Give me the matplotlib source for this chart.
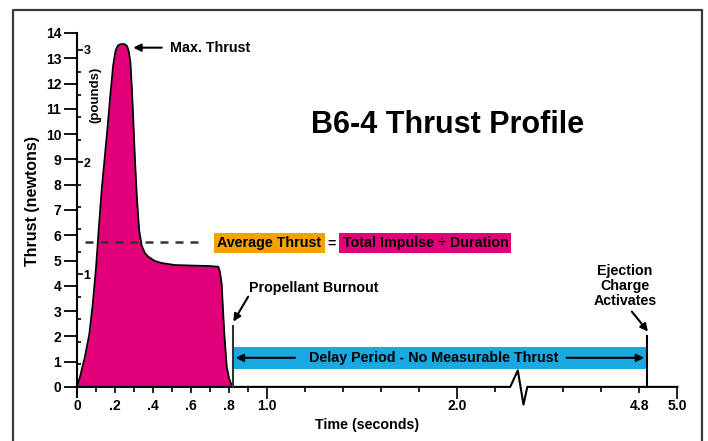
import numpy as np
import matplotlib
matplotlib.use("Agg")
import matplotlib.pyplot as plt
from matplotlib.lines import Line2D

plt.rcParams['font.family'] = ['Liberation Sans', 'DejaVu Sans']
plt.rcParams['font.weight'] = 'bold'

# thrust curve of the B6-4 motor (time in s, thrust in N)
burn_t = [0.0, 0.016, 0.042, 0.065, 0.082, 0.100, 0.115, 0.130, 0.145, 0.160,
          0.175, 0.190, 0.203, 0.215, 0.230, 0.250, 0.264, 0.273, 0.281, 0.288,
          0.296, 0.305, 0.315, 0.327, 0.340, 0.357, 0.375, 0.410, 0.445, 0.515,
          0.600, 0.700, 0.744, 0.752, 0.761, 0.775, 0.788, 0.800, 0.812, 0.825]
burn_N = [0.0, 0.4, 1.2, 2.1, 3.2, 4.7, 6.3, 7.8, 9.0, 10.2,
          11.5, 12.7, 13.3, 13.5, 13.56, 13.56, 13.48, 13.25, 12.85, 11.9,
          10.6, 9.0, 7.5, 6.2, 5.6, 5.3, 5.15, 4.98, 4.9, 4.82,
          4.8, 4.78, 4.75, 4.55, 4.1, 2.13, 0.8, 0.35, 0.1, 0.0]

avg_thrust = 5.7
burnout_t = 0.82
eject_t = 4.84
N_PER_LB = 4.448

xtick_pos = [0, 0.2, 0.4, 0.6, 0.8, 1.0, 2.0, 4.8, 5.0]
xtick_lab = ['0', '.2', '.4', '.6', '.8', '1.0', '2.0', '4.8', '5.0']
xminor_pos = [0.1, 0.3, 0.5, 0.7, 0.9, 1.2, 1.4, 1.6, 1.8, 2.2, 4.4, 4.6]
ytick_pos = list(range(0, 15))
lb_major = [1, 2, 3]
lb_minor = [0.2, 0.4, 0.6, 0.8, 1.2, 1.4, 1.6, 1.8, 2.2, 2.4, 2.6, 2.8]

# broken time axis: 2.28 s .. 4.21 s squeezed into the zigzag
brk_t = [-10, 2.28, 4.21, 20]
brk_u = [-10, 2.28, 2.37, 18.16]
axis_t = [0, 2.28, 3.14, 3.78, 4.21, 5.0]
axis_N = [0, 0, 0.65, -0.7, 0, 0]


def fwd(t):
    return np.interp(t, brk_t, brk_u)


def inv(u):
    return np.interp(u, brk_u, brk_t)


magenta = '#E2007A'
orange = '#F2A300'
blue = '#18A8E2'
dark = '#333333'

fig = plt.figure(figsize=(7.08, 4.41), dpi=100)
ax = fig.add_axes([77/708, 44/441, 600.4/708, 364/441])
ax.set_xscale('function', functions=(fwd, inv))
ax.set_xlim(0, 5.0)
ax.set_ylim(-0.4, 14)

for s in ['top', 'right']:
    ax.spines[s].set_visible(False)
ax.spines['bottom'].set_position(('data', 0))
ax.spines['bottom'].set_visible(False)
ax.spines['left'].set_linewidth(1.5)

# curve
ax.fill_between(burn_t, burn_N, color=magenta, lw=0)
ax.plot(burn_t, burn_N, color='black', lw=1.3)

# time axis line with break
ax.plot(axis_t, axis_N, color='black', lw=1.5, clip_on=False)

# average thrust
ax.plot([0.042, 0.65], [avg_thrust + 0.03, avg_thrust + 0.03], color=dark, lw=1.8,
        ls=(0, (3.2, 2.8)))
ax.text(1.013, 5.68, 'Average Thrust', ha='center', va='center', fontsize=10.3,
        bbox=dict(boxstyle='square,pad=0.22', fc=orange, ec='none'))
ax.text(1.34, 5.68, '=', ha='center', va='center', fontsize=10.3)
ax.text(1.834, 5.68, 'Total Impulse \u00f7 Duration', ha='center', va='center',
        fontsize=10.3, bbox=dict(boxstyle='square,pad=0.22', fc=magenta, ec='none'))

# delay period band
ax.fill_between([burnout_t, eject_t], 0.71, 1.58, color=blue, lw=0)
ax.text(1.879, 1.15, 'Delay Period - No Measurable Thrust', ha='center', va='center',
        fontsize=10.3)
arrow = dict(arrowstyle='-|>', lw=1.5, color='black', mutation_scale=11,
             shrinkA=0, shrinkB=0)
ax.annotate('', xy=(0.835, 1.15), xytext=(1.147, 1.15), arrowprops=arrow)
ax.annotate('', xy=(4.825, 1.15), xytext=(4.417, 1.15), arrowprops=arrow)

# burnout and ejection markers
ax.plot([burnout_t, burnout_t], [0, 2.4], color=dark, lw=1.5)
ax.plot([eject_t, eject_t], [0, 2.0], color='black', lw=1.5)
ax.annotate('', xy=(0.823, 2.58), xytext=(0.901, 3.57), arrowprops=arrow)
ax.text(0.905, 3.9, 'Propellant Burnout', ha='left', va='center', fontsize=10.3)
ax.annotate('', xy=(4.845, 2.19), xytext=(4.76, 2.98), arrowprops=arrow)
ax.text(4.724, 4.0, 'Ejection\nCharge\nActivates', ha='center', va='center',
        fontsize=10.3, linespacing=1.1)

# max thrust
ax.annotate('', xy=(0.296, 13.42), xytext=(0.446, 13.42), arrowprops=arrow)
ax.text(0.489, 13.42, 'Max. Thrust', ha='left', va='center', fontsize=10.3)

# ticks
ax.set_xticks(xtick_pos)
ax.set_xticklabels(xtick_lab)
ax.set_xticks(xminor_pos, minor=True)
ax.tick_params(axis='x', which='major', length=4.3, width=1.2, pad=4.5, labelsize=10)
ax.tick_params(axis='x', which='minor', length=3.6, width=1.2)
for tk, lab in zip(ax.xaxis.get_major_ticks(), xtick_lab):
    if lab in ('1.0', '2.0', '5.0'):
        tk.tick1line.set_markersize(8.6)
ax.set_yticks(ytick_pos)
ax.tick_params(axis='y', length=9.4, width=1.3, pad=2, labelsize=10)

# pounds scale on the same spine
ax2 = ax.twinx()
ax2.set_ylim(-0.4 / N_PER_LB, 14 / N_PER_LB)
for s in ['top', 'left', 'bottom', 'right']:
    ax2.spines[s].set_visible(False)
ax2.spines['right'].set_position(('axes', 0))
ax2.set_yticks(lb_major)
ax2.set_yticks(lb_minor, minor=True)
ax2.tick_params(axis='y', which='major', length=4.3, width=1.2, pad=0.5, labelsize=9)
ax2.tick_params(axis='y', which='minor', length=3, width=1.2)

ax.text(0.095, 11.55, '(pounds)', rotation=90, ha='center', va='center', fontsize=9.5)

fig.text(32/708, 1 - 201/441, 'Thrust (newtons)', rotation=90, ha='center',
         va='center', fontsize=11.5)
fig.text(367/708, 1 - 425/441, 'Time (seconds)', ha='center', va='center',
         fontsize=10.3)
fig.text(448/708, 1 - 133/441, 'B6-4 Thrust Profile', ha='center', va='baseline',
         fontsize=22)

# outer frame
fig.add_artist(Line2D([13/708, 13/708, 702/708, 702/708], [0, 431/441, 431/441, 0],
                      transform=fig.transFigure, color='#3a3a3a', lw=1.6))

fig.savefig('out.png', dpi=100)
